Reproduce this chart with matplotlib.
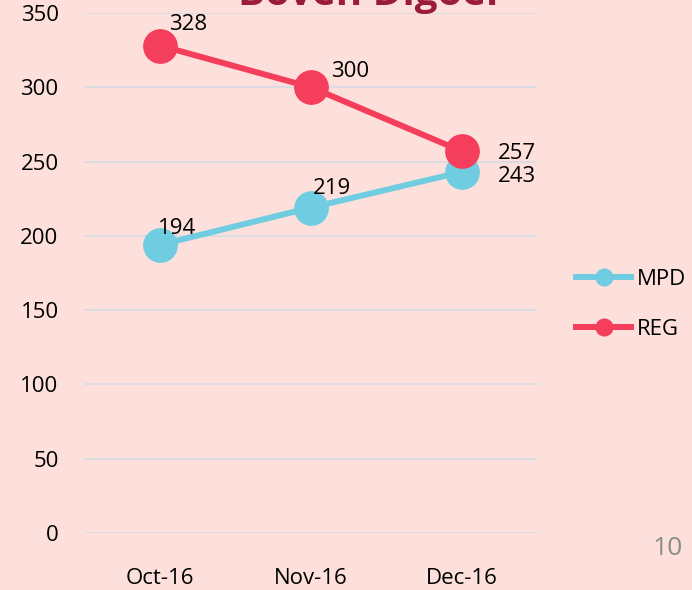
import matplotlib
matplotlib.use("Agg")
import matplotlib.pyplot as plt

categories = ["Oct-16", "Nov-16", "Dec-16"]
mpd = [194, 219, 243]
reg = [328, 300, 257]
yticks = [0, 50, 100, 150, 200, 250, 300, 350]

bg = "#FDE0DB"
c_mpd = "#70CCE0"
c_reg = "#F43E5B"

plt.rcParams['font.family'] = ['Open Sans', 'DejaVu Sans']

fig = plt.figure(figsize=(6.92, 5.9), dpi=100, facecolor=bg)
ax = fig.add_axes([0.1228, 0.0966, 0.6532, 0.8814], facecolor=bg)

x = [0.5, 1.5, 2.5]
ax.plot(x, mpd, color=c_mpd, lw=4.3, marker="o", ms=24, label="MPD", zorder=3)
ax.plot(x, reg, color=c_reg, lw=4.3, marker="o", ms=24, label="REG", zorder=3)

ax.set_xlim(0, 3)
ax.set_ylim(0, 350)
ax.set_yticks(yticks)
ax.set_xticks(x)
ax.set_xticklabels(categories)
ax.yaxis.grid(True, color="#D8DCE2", lw=1.3)
ax.set_axisbelow(True)
for s in ax.spines.values():
    s.set_visible(False)
ax.tick_params(axis="y", length=0, pad=19, labelsize=16)
ax.tick_params(axis="x", length=0, pad=25, labelsize=16)

# data labels
offs_mpd = [(12, 12), (15, 14), (40, -3)]
offs_reg = [(20, 15), (28, 11), (40, -2)]
for xi, v, o in zip(x, mpd, offs_mpd):
    ax.annotate(str(v), (xi, v), xytext=o, textcoords="offset points",
                ha="center", va="center", fontsize=16, zorder=4)
for xi, v, o in zip(x, reg, offs_reg):
    ax.annotate(str(v), (xi, v), xytext=o, textcoords="offset points",
                ha="center", va="center", fontsize=16, zorder=4)

leg = fig.legend(loc="center left", bbox_to_anchor=(0.832, 0.484), frameon=False,
                 fontsize=16, handlelength=2.5, labelspacing=1.3, markerscale=0.5,
                 handletextpad=0.27, borderpad=0, borderaxespad=0)

fig.text(0.532, 0.9915, "Boven Digoel", ha="center", va="baseline", fontsize=29,
         fontweight="bold", color="#9B1B3B")
fig.text(0.9655, 0.071, "10", ha="center", va="center", fontsize=19, color="#8C8C8C")

fig.savefig("out.png", dpi=100, facecolor=bg)
